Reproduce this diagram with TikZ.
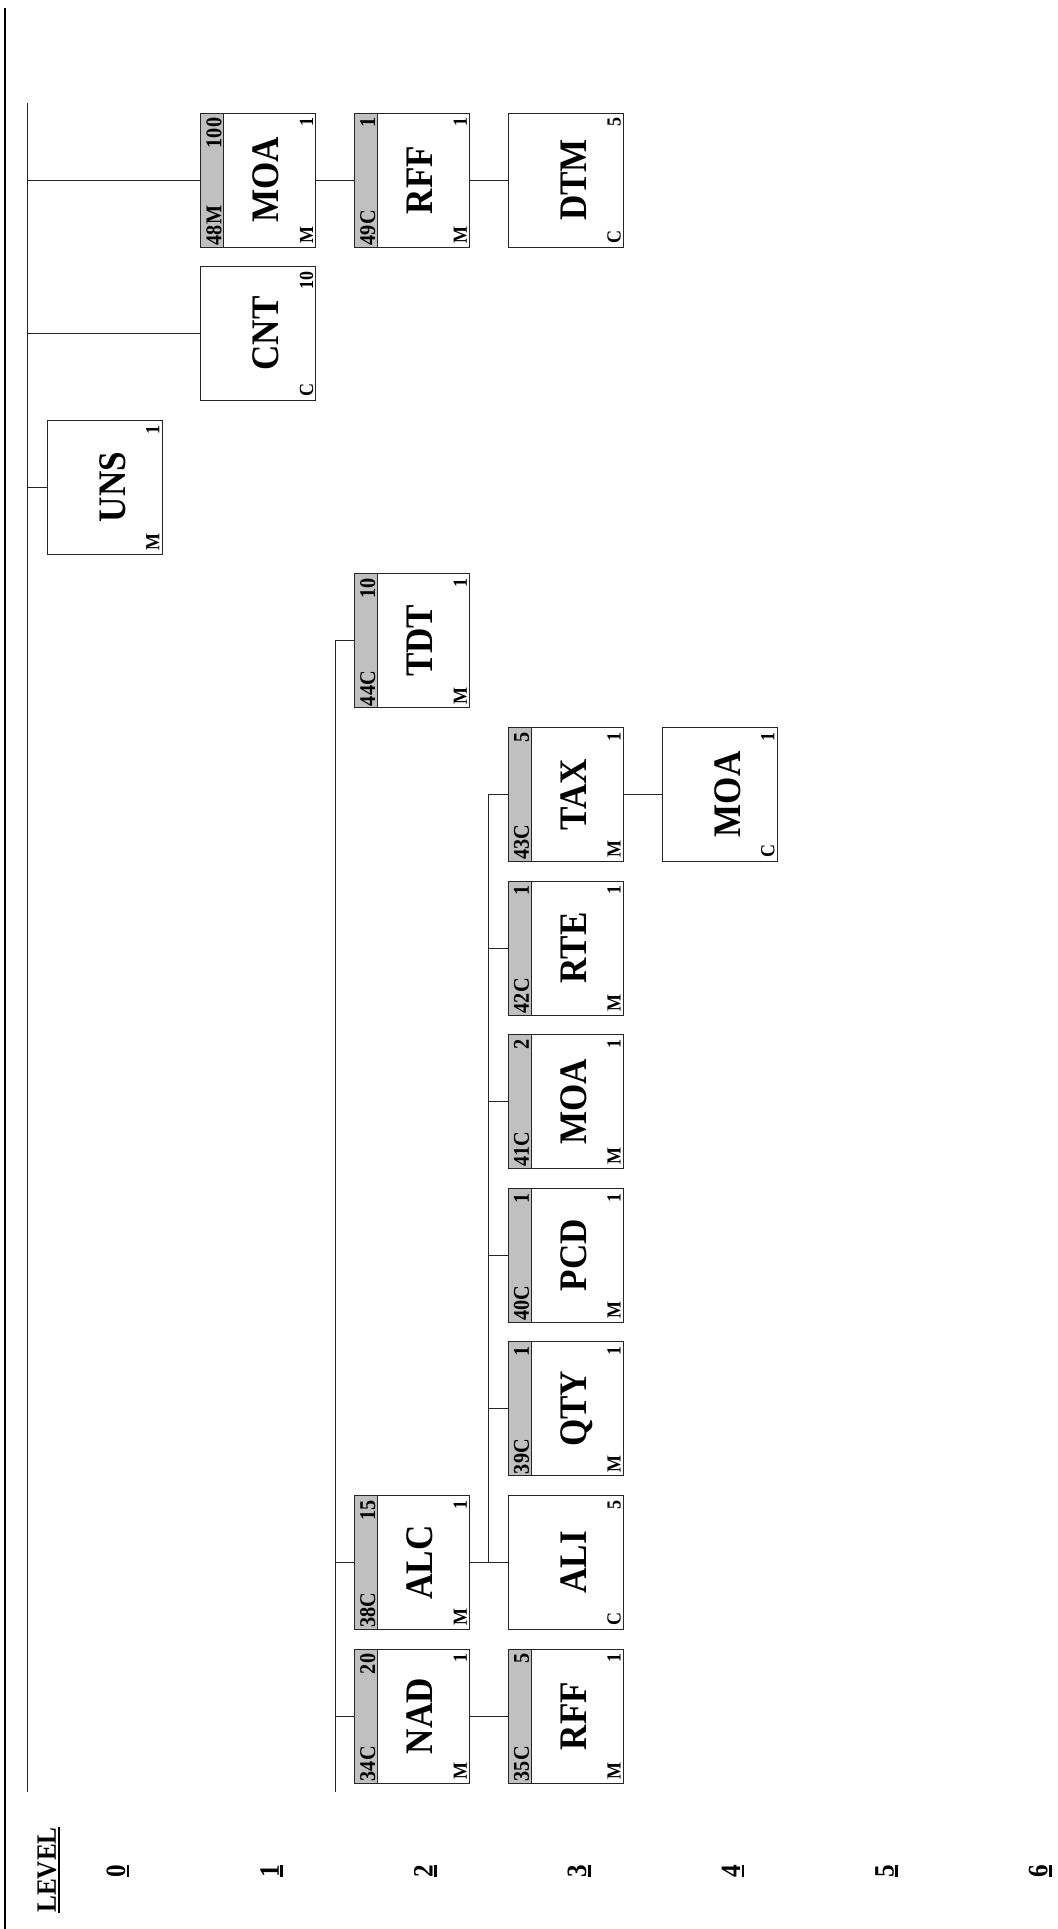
\documentclass[tikz,border=0pt]{standalone}
\usepackage{fontspec}
\setmainfont{Liberation Serif}[FakeStretch=0.9]
\usetikzlibrary{calc}
\definecolor{bandgrey}{RGB}{192,192,192}
\newcommand{\thickul}[1]{\vtop{\hbox{#1}\kern1.5pt\hrule height 2.5pt}}
\tikzstyle{segment} = [rectangle, draw=black!85, line width=0.8pt, minimum width=115pt, minimum height=134pt, inner sep=0pt]
\tikzstyle{grouped} = [segment, path picture={\fill[bandgrey] (path picture bounding box.north west) rectangle ([xshift=23pt]path picture bounding box.south west); \draw[black!85, line width=0.8pt] ([xshift=23pt]path picture bounding box.north west) -- ([xshift=23pt]path picture bounding box.south west);}]
\tikzstyle{segname} = [rotate=90, anchor=base, inner sep=0pt, font=\fontsize{39}{42}\selectfont\bfseries]
\tikzstyle{segsmall} = [rotate=90, inner sep=0pt, font=\fontsize{20}{22}\selectfont\bfseries]
\tikzstyle{bandtext} = [rotate=90, inner sep=0pt, font=\fontsize{22.5}{24}\selectfont\bfseries]
\tikzstyle{levelnum} = [rotate=90, inner sep=0pt, font=\fontsize{28}{30}\selectfont\bfseries]
\tikzstyle{link} = [draw=black!85, line width=0.8pt]

% box: [style] name, x, y, tag, status, repeat
\newcommand{\segment}[7][segment]{%
  \node[#1] (#2) at (#3,#4) {};
  \node[segname] (#2-name) at ([xshift=20.5pt]#2.center) {#5};
  \node[segsmall, anchor=base west] (#2-st) at ([xshift=-3pt,yshift=4pt]#2.south east) {#6};
  \node[segsmall, anchor=base east] (#2-rp) at ([xshift=-3pt,yshift=-5pt]#2.north east) {#7};
}
% grey band: name, group code, group repeat
\newcommand{\band}[3]{%
  \node[bandtext, anchor=base west] (#1-code) at ([xshift=21pt,yshift=2pt]#1.south west) {#2};
  \node[bandtext, anchor=base east] (#1-max) at ([xshift=21pt,yshift=-5pt]#1.north west) {#3};
}

\begin{document}
\begin{tikzpicture}[x=1pt, y=-1pt]
  \useasboundingbox (0,0) rectangle (1057,1929);
  \draw[line width=2pt] (5,8) -- (5,1929);

  % level 0 .. 4 columns, rows top to bottom
  \segment[grouped]{moa48}{258.25}{180}{MOA}{M}{1}
  \band{moa48}{48M}{100}
  \segment[grouped]{rff49}{412}{180}{RFF}{M}{1}
  \band{rff49}{49C}{1}
  \segment{dtm}{565.75}{180}{DTM}{C}{5}
  \segment{cnt}{258.25}{333.6}{CNT}{C}{10}
  \segment{uns}{104.5}{487.2}{UNS}{M}{1}
  \segment[grouped]{tdt}{412}{640.8}{TDT}{M}{1}
  \band{tdt}{44C}{10}
  \segment[grouped]{tax}{565.75}{794.4}{TAX}{M}{1}
  \band{tax}{43C}{5}
  \segment{moatax}{719.5}{794.4}{MOA}{C}{1}
  \segment[grouped]{rte}{565.75}{948}{RTE}{M}{1}
  \band{rte}{42C}{1}
  \segment[grouped]{moa41}{565.75}{1101.6}{MOA}{M}{1}
  \band{moa41}{41C}{2}
  \segment[grouped]{pcd}{565.75}{1255.2}{PCD}{M}{1}
  \band{pcd}{40C}{1}
  \segment[grouped]{qty}{565.75}{1408.8}{QTY}{M}{1}
  \band{qty}{39C}{1}
  \segment{ali}{565.75}{1562.4}{ALI}{C}{5}
  \segment[grouped]{alc}{412}{1562.4}{ALC}{M}{1}
  \band{alc}{38C}{15}
  \segment[grouped]{nad}{412}{1716}{NAD}{M}{1}
  \band{nad}{34C}{20}
  \segment[grouped]{rff35}{565.75}{1716}{RFF}{M}{1}
  \band{rff35}{35C}{5}

  % trunk
  \coordinate (trunktop) at (27,103);
  \coordinate (trunkbot) at (27,1792);
  \draw[link] (trunktop) -- (trunkbot);
  \draw[link] (uns.west) -- (uns.west -| trunktop);
  \draw[link] (cnt.west) -- (cnt.west -| trunktop);
  \draw[link] (moa48.west) -- (moa48.west -| trunktop);
  \draw[link] (moa48) -- (rff49);
  \draw[link] (rff49) -- (dtm);

  % group line
  \coordinate (grpbot) at (335,1792);
  \draw[link] (tdt.west) -| (grpbot);
  \draw[link] (alc.west) -- (alc.west -| grpbot);
  \draw[link] (nad.west) -- (nad.west -| grpbot);
  \draw[link] (nad) -- (rff35);
  \draw[link] (alc) -- (ali);
  \path (alc.east) -- (ali.west) coordinate[pos=0.5] (alcjoin);
  \draw[link] (alcjoin) |- (tax.west);
  \foreach \s in {qty,pcd,moa41,rte}
    \draw[link] (\s.west) -- (\s.west -| alcjoin);
  \draw[link] (tax) -- (moatax);

  % levels
  \node[levelnum] (level) at (49,1870) {\thickul{LEVEL}};
  \foreach \i in {0,...,6}
    \node[levelnum] (lev\i) at ({118+153.7*\i},1871) {\thickul{\i}};
\end{tikzpicture}
\end{document}
